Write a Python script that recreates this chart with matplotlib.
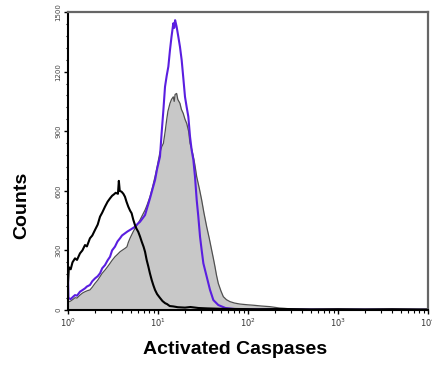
import numpy as np
import matplotlib.pyplot as plt
from matplotlib.ticker import FixedLocator, LogLocator, NullFormatter

# channel positions are in decades (10**pos gives intensity)
black_pos = [0.0, 0.01, 0.03, 0.05, 0.078, 0.10, 0.133, 0.16, 0.189, 0.21, 0.244, 0.27,
             0.30, 0.33, 0.356, 0.38, 0.411, 0.44, 0.467, 0.49, 0.51, 0.53, 0.555, 0.565,
             0.575, 0.596, 0.615, 0.633, 0.65, 0.67, 0.69, 0.707, 0.725, 0.744, 0.76, 0.78,
             0.80, 0.819, 0.84, 0.856, 0.874, 0.893, 0.91, 0.93, 0.948, 0.967, 0.99, 1.02,
             1.05, 1.08, 1.10, 1.13, 1.17, 1.22, 1.30, 1.36, 1.45, 1.55, 1.70, 1.90, 2.10,
             2.40, 2.70, 3.00, 3.30, 3.60, 3.90, 4.00]
black_cnt = [140, 215, 205, 240, 260, 252, 285, 300, 327, 320, 361, 375,
             403, 430, 470, 490, 520, 545, 562, 575, 582, 590, 585, 650,
             600, 595, 585, 570, 545, 520, 500, 487, 455, 428, 410, 394,
             370, 344, 318, 293, 252, 218, 185, 151, 125, 101, 80, 62,
             45, 34, 30, 20, 18, 14, 12, 15, 10, 8, 6, 5, 4,
             5, 3, 4, 3, 4, 3, 3]

purple_pos = [0.0, 0.005, 0.03, 0.06, 0.078, 0.10, 0.133, 0.16, 0.189, 0.21, 0.244, 0.27,
              0.30, 0.33, 0.356, 0.38, 0.411, 0.44, 0.467, 0.49, 0.522, 0.55, 0.578, 0.60,
              0.633, 0.66, 0.689, 0.72, 0.744, 0.77, 0.80, 0.83, 0.856, 0.88, 0.911, 0.94,
              0.967, 0.99, 1.022, 1.04, 1.06, 1.078, 1.097, 1.115, 1.133, 1.15, 1.17, 1.18,
              1.19, 1.20, 1.207, 1.226, 1.244, 1.263, 1.28, 1.30, 1.319, 1.337, 1.356, 1.374,
              1.393, 1.411, 1.43, 1.448, 1.467, 1.485, 1.504, 1.541, 1.578, 1.615, 1.67,
              1.75, 1.85, 2.0, 2.5, 3.0, 3.5, 4.0]
purple_cnt = [170, 60, 55, 68, 75, 72, 92, 100, 109, 118, 126, 145,
              159, 170, 185, 210, 226, 250, 268, 300, 319, 345, 361, 375,
              386, 395, 403, 412, 419, 432, 444, 462, 478, 515, 562, 610,
              654, 710, 772, 889, 1007, 1124, 1180, 1225, 1308, 1375, 1443, 1420,
              1459, 1440, 1426, 1375, 1325, 1258, 1174, 1073, 1020, 973, 872, 805,
              755, 671, 554, 470, 369, 302, 235, 168, 101, 50, 25,
              10, 5, 3, 2, 2, 2, 1]

gray_pos = [0.0, 0.03, 0.06, 0.078, 0.10, 0.133, 0.16, 0.189, 0.22, 0.244, 0.27, 0.30,
            0.33, 0.356, 0.38, 0.411, 0.44, 0.467, 0.49, 0.522, 0.55, 0.578, 0.60, 0.633,
            0.655, 0.67, 0.689, 0.72, 0.744, 0.77, 0.80, 0.83, 0.856, 0.88, 0.911, 0.94,
            0.967, 0.99, 1.02, 1.04, 1.06, 1.08, 1.096, 1.11, 1.133, 1.15, 1.17, 1.18,
            1.19, 1.207, 1.22, 1.244, 1.26, 1.28, 1.30, 1.319, 1.34, 1.356, 1.374, 1.393,
            1.41, 1.43, 1.46, 1.485, 1.51, 1.541, 1.57, 1.596, 1.615, 1.633, 1.65, 1.67,
            1.70, 1.726, 1.76, 1.80, 1.85, 1.91, 2.0, 2.06, 2.15, 2.24, 2.35, 2.5,
            2.7, 3.0, 3.5, 4.0]
gray_cnt = [40, 45, 55, 62, 60, 75, 85, 92, 98, 101, 115, 134,
            150, 168, 185, 201, 218, 235, 250, 268, 280, 293, 300, 310,
            318, 340, 361, 390, 411, 430, 453, 480, 503, 530, 570, 620,
            671, 720, 790, 820, 839, 900, 956, 1000, 1040, 1060, 1073, 1050,
            1085, 1090, 1060, 1040, 1010, 990, 960, 939, 900, 839, 810, 772,
            730, 671, 610, 554, 490, 419, 360, 302, 260, 218, 175, 134,
            95, 67, 52, 42, 35, 30, 26, 24, 20, 17, 10, 5,
            3, 2, 1, 1]

y_ticks = [0, 300, 600, 900, 1200, 1500]

fig = plt.figure(figsize=(4.32, 3.70), dpi=100)
ax = fig.add_axes([68/432, 1 - 310/370, 360/432, 298/370])

gx = 10 ** np.array(gray_pos)
ax.fill_between(gx, 0, gray_cnt, color="#c8c8c8", lw=0)
ax.plot(gx, gray_cnt, color="#505050", lw=0.9)
ax.plot(10 ** np.array(purple_pos), purple_cnt, color="#5a1ee0", lw=1.5)
ax.plot(10 ** np.array(black_pos), black_cnt, color="black", lw=1.5)

ax.set_xscale("log")
ax.set_xlim(1, 1e4)
ax.set_ylim(0, 1500)

ax.yaxis.set_major_locator(FixedLocator(y_ticks))
ax.yaxis.set_minor_locator(FixedLocator(np.arange(0, 1501, 60)))
ax.set_yticklabels([str(v) for v in y_ticks], rotation=90, va="center",
                   fontsize=5, color="#444444")
ax.xaxis.set_minor_locator(LogLocator(base=10, subs=np.arange(2, 10)))
ax.xaxis.set_minor_formatter(NullFormatter())
ax.set_xticks([1, 10, 100, 1000, 10000])
ax.set_xticklabels([r"$10^{0}$", r"$10^{1}$", r"$10^{2}$", r"$10^{3}$", r"$10^{4}$"],
                   fontsize=6, color="#333333")

ax.tick_params(which="major", direction="out", length=3, width=1, pad=2)
ax.tick_params(which="minor", direction="out", length=1.8, width=0.8)

for side in ["left", "bottom"]:
    ax.spines[side].set_linewidth(1.5)
    ax.spines[side].set_color("black")
for side in ["top", "right"]:
    ax.spines[side].set_linewidth(1.6)
    ax.spines[side].set_color("#666666")

fig.text(22/432, 1 - 205/370, "Counts", rotation=90, ha="center", va="center",
         fontsize=14, fontweight="bold", family="Liberation Sans")
fig.text(235/432, 1 - 350/370, "Activated Caspases", ha="center", va="center",
         fontsize=14, fontweight="bold", family="Liberation Sans")

fig.savefig("out.png", dpi=100)
